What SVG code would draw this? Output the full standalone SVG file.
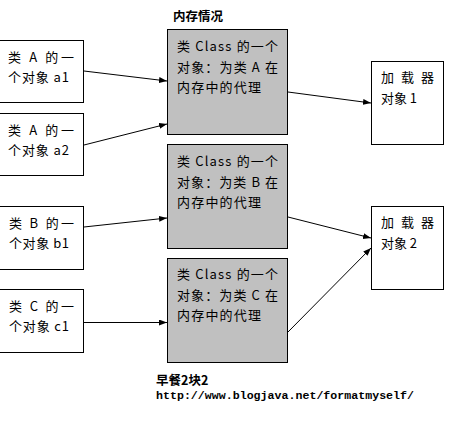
<svg xmlns="http://www.w3.org/2000/svg" width="449" height="424" viewBox="0 0 449 424">
<style>
.box{fill:#fff;stroke:#000;stroke-width:1}
.gbox{fill:#c0c0c0;stroke:#000;stroke-width:1}
.t{font-family:"Noto Sans CJK SC","Liberation Sans",sans-serif;font-size:13px;fill:#000}
.b{font-family:"Noto Sans CJK SC","Liberation Sans",sans-serif;font-size:12.5px;font-weight:bold;fill:#000}
.u{font-family:"Liberation Mono","Noto Sans CJK SC",monospace;font-size:11.6px;font-weight:bold;fill:#000}
.c{stroke:#000;stroke-width:1;fill:none;marker-end:url(#ah)}
</style>
<defs>
<marker id="ah" markerWidth="9" markerHeight="7" refX="8" refY="3" orient="auto" markerUnits="userSpaceOnUse">
<path d="M0,0 L8,3 L0,6 z" fill="#000"/>
</marker>
</defs>
<rect width="449" height="424" fill="#fff"/>
<text class="b" x="173" y="21">内存情况</text>
<g id="a1">
<rect class="box" x="-0.5" y="40.5" width="84" height="62"/>
<text class="t" x="8" y="62" textLength="66" lengthAdjust="spacing">类 A 的一</text>
<text class="t" x="8" y="82" textLength="61" lengthAdjust="spacing">个对象 a1</text>
</g>
<g id="a2">
<rect class="box" x="-0.5" y="113.5" width="84" height="62"/>
<text class="t" x="8" y="135" textLength="66" lengthAdjust="spacing">类 A 的一</text>
<text class="t" x="8" y="155" textLength="61" lengthAdjust="spacing">个对象 a2</text>
</g>
<g id="b1">
<rect class="box" x="-0.5" y="206.5" width="84" height="63"/>
<text class="t" x="9" y="228" textLength="65" lengthAdjust="spacing">类 B 的一</text>
<text class="t" x="9" y="248" textLength="60" lengthAdjust="spacing">个对象 b1</text>
</g>
<g id="c1">
<rect class="box" x="-0.5" y="289.5" width="84" height="63"/>
<text class="t" x="9" y="311" textLength="65" lengthAdjust="spacing">类 C 的一</text>
<text class="t" x="9" y="331" textLength="60" lengthAdjust="spacing">个对象 c1</text>
</g>
<g id="g1">
<rect class="gbox" x="167.5" y="29.5" width="120" height="105"/>
<text class="t" x="177" y="51" textLength="101" lengthAdjust="spacing">类 Class 的一个</text>
<text class="t" x="177" y="72" textLength="101" lengthAdjust="spacing">对象：为类 A 在</text>
<text class="t" x="177" y="92" textLength="84" lengthAdjust="spacing">内存中的代理</text>
</g>
<g id="g2">
<rect class="gbox" x="167.5" y="144.5" width="120" height="104"/>
<text class="t" x="177" y="166" textLength="101" lengthAdjust="spacing">类 Class 的一个</text>
<text class="t" x="177" y="187" textLength="101" lengthAdjust="spacing">对象：为类 B 在</text>
<text class="t" x="177" y="207" textLength="84" lengthAdjust="spacing">内存中的代理</text>
</g>
<g id="g3">
<rect class="gbox" x="167.5" y="258.5" width="120" height="104"/>
<text class="t" x="177" y="279" textLength="101" lengthAdjust="spacing">类 Class 的一个</text>
<text class="t" x="177" y="300" textLength="101" lengthAdjust="spacing">对象：为类 C 在</text>
<text class="t" x="177" y="320" textLength="84" lengthAdjust="spacing">内存中的代理</text>
</g>
<g id="l1">
<rect class="box" x="371.5" y="61.5" width="72" height="83"/>
<text class="t" x="381" y="82" textLength="53" lengthAdjust="spacing">加 载 器</text>
<text class="t" x="381" y="103" textLength="36" lengthAdjust="spacing">对象 1</text>
</g>
<g id="l2">
<rect class="box" x="371.5" y="206.5" width="72" height="83"/>
<text class="t" x="381" y="227" textLength="53" lengthAdjust="spacing">加 载 器</text>
<text class="t" x="381" y="248" textLength="36" lengthAdjust="spacing">对象 2</text>
</g>
<g id="connectors">
<line class="c" x1="84" y1="71" x2="167" y2="81"/>
<line class="c" x1="84" y1="145" x2="167" y2="124"/>
<line class="c" x1="84" y1="227" x2="167" y2="218"/>
<line class="c" x1="84" y1="322.5" x2="167" y2="322.5"/>
<line class="c" x1="288" y1="92" x2="371" y2="103"/>
<line class="c" x1="288" y1="217" x2="371" y2="238"/>
<line class="c" x1="288" y1="332" x2="371" y2="248"/>
</g>
<text class="b" x="156" y="385">早餐2块2</text>
<text class="u" x="156" y="399" textLength="258" lengthAdjust="spacing">http://www.blogjava.net/formatmyself/</text>
</svg>
